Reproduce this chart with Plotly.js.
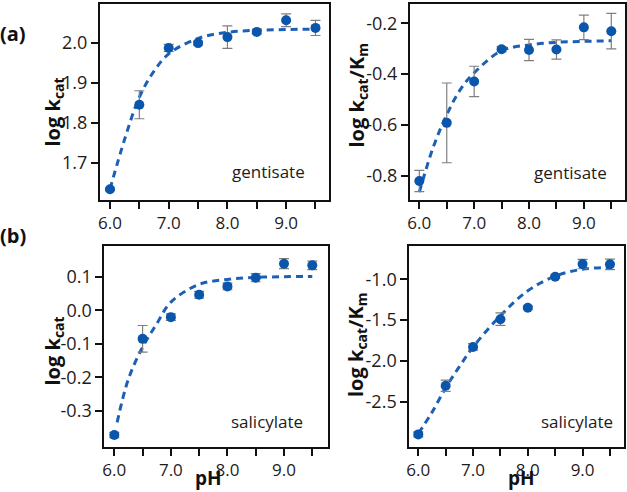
<!DOCTYPE html>
<html>
<head>
<meta charset="utf-8">
<script src="https://cdn.plot.ly/plotly-3.0.1.min.js"></script>
<style>
  html, body { margin: 0; padding: 0; background: #fff; }
  #chart { width: 627px; height: 492px; }
</style>
</head>
<body>
<div id="chart"></div>
<script>
// pH values at which activity was measured
const pH = [6.0, 6.5, 7.0, 7.5, 8.0, 8.5, 9.0, 9.5];

// (a) gentisate
const gentLogKcat    = [1.635, 1.846, 1.988, 2.000, 2.015, 2.028, 2.057, 2.038];
const gentLogKcatErr = [0.003, 0.035, 0.009, 0.005, 0.028, 0.005, 0.016, 0.019];
const gentLogEff     = [-0.821, -0.592, -0.429, -0.302, -0.305, -0.303, -0.216, -0.231];
const gentLogEffErr  = [0.042, 0.157, 0.060, 0.010, 0.042, 0.038, 0.048, 0.070];

// (b) salicylate
const salLogKcat    = [-0.373, -0.085, -0.020, 0.047, 0.072, 0.098, 0.140, 0.135];
const salLogKcatErr = [0.008, 0.040, 0.010, 0.010, 0.010, 0.012, 0.015, 0.013];
const salLogEff     = [-2.900, -2.304, -1.828, -1.488, -1.348, -0.968, -0.813, -0.816];
const salLogEffErr  = [0.030, 0.070, 0.040, 0.077, 0.020, 0.020, 0.057, 0.065];

// fitted pH-profile curves
const fitPH  = [6.0, 6.25, 6.5, 6.75, 7.0, 7.5, 8.0, 8.5, 9.0, 9.5];
const fitPHc = [6.05, 6.25, 6.5, 6.75, 7.0, 7.5, 8.0, 8.5, 9.0, 9.5];
const gentKcatFit = [1.635, 1.760, 1.865, 1.930, 1.973, 2.012, 2.027, 2.032, 2.034, 2.035];
const gentEffFit  = [-0.865, -0.690, -0.560, -0.460, -0.395, -0.308, -0.285, -0.275, -0.271, -0.269];
const salKcatFit  = [-0.335, -0.205, -0.110, -0.040, 0.025, 0.078, 0.093, 0.099, 0.101, 0.102];
const salEffFit   = [-2.890, -2.630, -2.330, -2.070, -1.830, -1.445, -1.140, -0.960, -0.875, -0.855];

// axis ticks
const xTickVals = [6.0, 6.5, 7.0, 7.5, 8.0, 8.5, 9.0, 9.5];
const xTickText = ['6.0', ' ', '7.0', ' ', '8.0', ' ', '9.0', ' '];
const yTicksA = [1.7, 1.8, 1.9, 2.0];
const yTextA  = ['1.7', '1.8', '1.9', '2.0'];
const yTicksB = [-0.8, -0.6, -0.4, -0.2];
const yTextB  = ['-0.8', '-0.6', '-0.4', '-0.2'];
const yTicksC = [-0.3, -0.2, -0.1, 0.0, 0.1];
const yTextC  = ['-0.3', '-0.2', '-0.1', '0.0', '0.1'];
const yTicksD = [-2.5, -2.0, -1.5, -1.0];
const yTextD  = ['-2.5', '-2.0', '-1.5', '-1.0'];

const W = 627, H = 492;
const FONT = '"Open Sans", "Noto Sans", sans-serif';
const DOT = '#0a56ad';
const FIT = '#1c60b6';
const ERR = '#7f7f7f';

function fitTrace(x, y, xa, ya) {
  return {
    x: x, y: y, xaxis: xa, yaxis: ya, type: 'scatter', mode: 'lines',
    line: { color: FIT, width: 3, dash: '7px,5px', shape: 'spline' },
    hoverinfo: 'skip', showlegend: false
  };
}
function dataTrace(y, err, xa, ya) {
  return {
    x: pH, y: y, xaxis: xa, yaxis: ya, type: 'scatter', mode: 'markers',
    marker: { color: DOT, size: 10 },
    error_y: { type: 'data', array: err, visible: true, color: ERR, thickness: 1.2, width: 5 },
    showlegend: false
  };
}

const data = [
  fitTrace(fitPH, gentKcatFit, 'x', 'y'),
  dataTrace(gentLogKcat, gentLogKcatErr, 'x', 'y'),
  fitTrace(fitPH, gentEffFit, 'x2', 'y2'),
  dataTrace(gentLogEff, gentLogEffErr, 'x2', 'y2'),
  fitTrace(fitPHc, salKcatFit, 'x3', 'y3'),
  dataTrace(salLogKcat, salLogKcatErr, 'x3', 'y3'),
  fitTrace(fitPH, salEffFit, 'x4', 'y4'),
  dataTrace(salLogEff, salLogEffErr, 'x4', 'y4')
];

// pixel helpers for the paper coordinate system
const px = v => v / W;
const py = v => 1 - v / H;

function xAxis(l, r, range, anchor) {
  return {
    domain: [px(l), px(r)], range: range, anchor: anchor,
    tickvals: xTickVals, ticktext: xTickText,
    ticks: 'outside', ticklen: 7, tickwidth: 2, tickcolor: '#111',
    showline: true, linecolor: '#111', linewidth: 2, mirror: true,
    showgrid: false, zeroline: false,
    tickfont: { family: FONT, size: 17, color: '#1e1b1c' }
  };
}
function yAxis(t, b, range, vals, text, anchor) {
  return {
    domain: [py(b), py(t)], range: range, anchor: anchor,
    tickvals: vals, ticktext: text,
    ticks: 'outside', ticklen: 7, tickwidth: 2, tickcolor: '#111',
    showline: true, linecolor: '#111', linewidth: 2, mirror: true,
    showgrid: false, zeroline: false,
    tickfont: { family: FONT, size: 18, color: '#1e1b1c' }
  };
}

function label(text, x, y, opts) {
  return Object.assign({
    text: text, xref: 'paper', yref: 'paper', x: px(x), y: py(y),
    xanchor: 'center', yanchor: 'middle', showarrow: false,
    font: { family: FONT, size: 17, color: '#1e1b1c' }
  }, opts || {});
}
const bold = { family: FONT, size: 20, color: '#111' };
const boldPH = { family: FONT, size: 19, color: '#111' };

const layout = {
  width: W, height: H,
  margin: { l: 0, r: 0, t: 0, b: 0 },
  paper_bgcolor: '#fff', plot_bgcolor: '#fff',
  showlegend: false,
  xaxis:  xAxis(100, 329, [5.83, 9.73], 'y'),
  yaxis:  yAxis(3.5, 200, [1.608, 2.099], yTicksA, yTextA, 'x'),
  xaxis2: xAxis(410, 625, [5.83, 9.75], 'y2'),
  yaxis2: yAxis(3.5, 200, [-0.8957, -0.122], yTicksB, yTextB, 'x2'),
  xaxis3: xAxis(104.3, 328.3, [5.823, 9.783], 'y3'),
  yaxis3: yAxis(246, 446.7, [-0.408, 0.193], yTicksC, yTextC, 'x3'),
  xaxis4: xAxis(409.3, 624, [5.836, 9.756], 'y4'),
  yaxis4: yAxis(246, 446.7, [-3.051, -0.591], yTicksD, yTextD, 'x4'),
  annotations: [
    label('<b>(a)</b>', 13, 33.5, { font: bold }),
    label('<b>(b)</b>', 13, 235, { font: bold }),
    label('gentisate', 268, 171),
    label('gentisate', 570, 172),
    label('salicylate', 267, 421.5),
    label('salicylate', 576.5, 421.5),
    label('<b>log k<sub>cat</sub></b>', 52.5, 112, { textangle: -90, font: bold }),
    label('<b>log k<sub>cat</sub>/K<sub>m</sub></b>', 356.5, 95, { textangle: -90, font: bold }),
    label('<b>log k<sub>cat</sub></b>', 52.5, 351, { textangle: -90, font: bold }),
    label('<b>log k<sub>cat</sub>/K<sub>m</sub></b>', 356, 345, { textangle: -90, font: bold }),
    label('<b>pH</b>', 208, 492, { yanchor: 'bottom', borderpad: 0, font: boldPH }),
    label('<b>pH</b>', 521.5, 492, { yanchor: 'bottom', borderpad: 0, font: boldPH })
  ]
};

Plotly.newPlot('chart', data, layout, { staticPlot: true, displayModeBar: false });
</script>
</body>
</html>
